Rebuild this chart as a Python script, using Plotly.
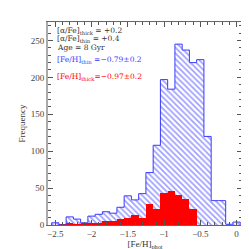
import plotly.graph_objects as go

# Bin centres of [Fe/H]_phot (bin width 0.1)
bin_centers = [-2.5, -2.4, -2.3, -2.2, -2.1, -2.0, -1.9, -1.8, -1.7, -1.6,
               -1.5, -1.4, -1.3, -1.2, -1.1, -1.0, -0.9, -0.8, -0.7, -0.6,
               -0.5, -0.4, -0.3, -0.2, -0.1, 0.0]
thin_counts = [3, 0, 11, 8, 3, 12, 14.5, 18, 16, 24,
               39.5, 34, 42.5, 71, 108, 197, 184, 245, 237, 220,
               224, 120, 33, 33, 1, 4]
thick_counts = [0, 1, 2, 1, 2, 3, 2, 5, 5, 8,
                9, 13, 9, 28, 22, 43, 46, 40, 35, 22,
                0, 0, 0, 0, 0, 0]
bin_width = 0.1

x_ticks = [-2.5, -2, -1.5, -1, -0.5, 0]
x_ticktext = ["\u22122.5", "\u22122", "\u22121.5", "\u22121", "\u22120.5", "0"]
y_ticks = [0, 50, 100, 150, 200, 250]

BLUE = "#3a3aff"
RED = "#ff0000"
FONT = "Liberation Serif"
ANN_FONT = "DejaVu Serif"

# step outline for the thin-disc histogram, derived from the bins
step_x = [bin_centers[0] - bin_width / 2]
step_y = [0]
for c, v in zip(bin_centers, thin_counts):
    step_x.append(c - bin_width / 2)
    step_y.append(v)
step_x.append(bin_centers[-1] + bin_width / 2)
step_y.append(thin_counts[-1])
step_x.append(bin_centers[-1] + bin_width / 2)
step_y.append(0)

fig = go.Figure()
fig.add_trace(go.Bar(
    x=bin_centers, y=thin_counts, width=bin_width,
    marker=dict(color="rgba(0,0,0,0)", line=dict(width=0),
                pattern=dict(shape="\\", fgcolor=BLUE, bgcolor="rgba(0,0,0,0)",
                             size=4, solidity=0.4)),
    showlegend=False, hoverinfo="skip"))
fig.add_trace(go.Scatter(
    x=step_x, y=step_y, mode="lines", line=dict(color=BLUE, width=1, shape="hv"),
    showlegend=False, hoverinfo="skip"))
fig.add_trace(go.Bar(
    x=bin_centers, y=thick_counts, width=bin_width,
    marker=dict(color=RED, line=dict(width=0)),
    showlegend=False, hoverinfo="skip"))

texts = [
    ("[\u03b1/Fe]<sub>thick</sub> = +0.2", 0.958, "#333333"),
    ("[\u03b1/Fe]<sub>thin</sub> = +0.4", 0.918, "#333333"),
    ("Age = 8 Gyr", 0.872, "#333333"),
    ("[Fe/H]<sub>thin</sub> =\u22120.79\u00b10.2", 0.813, BLUE),
    ("[Fe/H]<sub>thick</sub>=\u22120.97\u00b10.2", 0.731, RED),
]
for t, yy, col in texts:
    fig.add_annotation(text=t, xref="paper", yref="paper", x=0.035, y=yy,
                       xanchor="left", yanchor="middle", showarrow=False,
                       font=dict(family=ANN_FONT, size=7.5, color=col))

fig.update_layout(
    width=249, height=249,
    margin=dict(l=27, r=15, t=14, b=27),
    paper_bgcolor="white", plot_bgcolor="white",
    barmode="overlay", bargap=0,
    font=dict(family=FONT, size=9, color="#444444"),
    xaxis=dict(range=[-2.6, 0.075], tickvals=x_ticks, ticktext=x_ticktext,
               ticks="inside", ticklen=5, tickcolor="#555555", tickwidth=1,
               minor=dict(dtick=0.1, ticks="inside", ticklen=3, tickcolor="#555555"),
               showline=True, linecolor="#666666", linewidth=1, mirror="allticks",
               showgrid=False, zeroline=False,
               title=dict(text="[Fe/H]<sub>phot</sub>", standoff=0,
                          font=dict(family=FONT, size=9, color="#333333")),
               tickfont=dict(family=FONT, size=9, color="#444444")),
    yaxis=dict(range=[0, 275], tickvals=y_ticks,
               ticks="inside", ticklen=5, tickcolor="#555555", tickwidth=1,
               minor=dict(dtick=10, ticks="inside", ticklen=3, tickcolor="#555555"),
               showline=True, linecolor="#aaaaaa", linewidth=2, mirror="allticks",
               showgrid=False, zeroline=True, zerolinecolor=RED, zerolinewidth=1,
               title=dict(text="Frequency", standoff=4,
                          font=dict(family=FONT, size=9, color="#333333")),
               tickfont=dict(family=FONT, size=9, color="#444444")),
)

fig.write_html("out.html")
